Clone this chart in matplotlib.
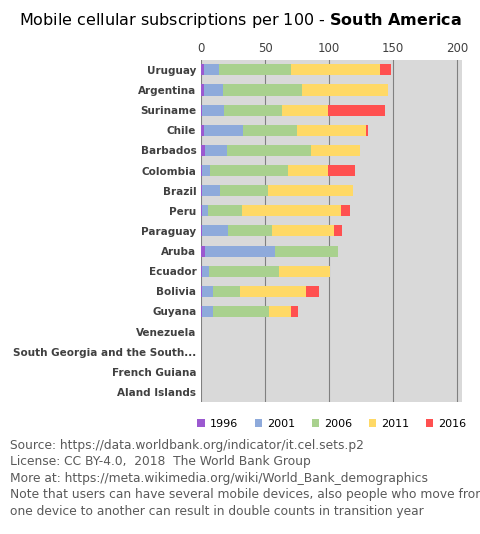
import matplotlib.pyplot as plt
import numpy as np

countries = ["Uruguay", "Argentina", "Suriname", "Chile", "Barbados", "Colombia", "Brazil",
             "Peru", "Paraguay", "Aruba", "Ecuador", "Bolivia", "Guyana", "Venezuela",
             "South Georgia and the South...", "French Guiana", "Aland Islands"]
years = ["1996", "2001", "2006", "2011", "2016"]
colors = ["#9b59d0", "#8eaadb", "#a9d18e", "#ffd966", "#ff5050"]

v1996 = [2, 2, 1, 2, 3, 1, 1, 1, 1, 3, 0.5, 0.3, 0.5, 0, 0, 0, 0]
v2001 = [14, 17, 18, 33, 20, 7, 15, 5, 21, 58, 6, 9, 9, 0, 0, 0, 0]
v2006 = [70, 79, 63, 75, 86, 68, 52, 32, 55, 107, 61, 30, 53, 0, 0, 0, 0]
v2011 = [140, 146, 99, 129, 124, 99, 119, 109, 104, 0, 101, 82, 70, 0, 0, 0, 0]
v2016 = [148, 0, 144, 130, 0, 120, 0, 116, 110, 0, 0, 92, 76, 0, 0, 0, 0]
series = [v1996, v2001, v2006, v2011, v2016]

plt.rcParams['font.family'] = ['Liberation Sans Narrow', 'DejaVu Sans']

fig = plt.figure(figsize=(4.8, 5.34), dpi=100)
ax = fig.add_axes([0.419, 0.247, 0.544, 0.641])
ax.set_facecolor("#d9d9d9")
y = np.arange(len(countries))

prev = np.zeros(len(countries))
for name, vals, c in zip(years, series, colors):
    vals = np.array(vals, dtype=float)
    width = np.where(vals > prev, vals - prev, 0)
    ax.barh(y, width, left=prev, height=0.55, color=c, label=name, zorder=3)
    prev = np.maximum(prev, vals)

ax.set_xlim(0, 204)
ax.set_ylim(len(countries) - 0.5, -0.5)
ax.set_xticks([0, 50, 100, 150, 200])
ax.xaxis.tick_top()
ax.tick_params(axis="x", length=0, labelsize=8.5, colors="#404040")
ax.tick_params(axis="y", length=0, labelsize=7.5)
ax.set_yticks(y)
ax.set_yticklabels(countries, fontweight="bold", color="#404040")
ax.grid(axis="x", color="#808080", linewidth=0.8, zorder=0)
for s in ax.spines.values():
    s.set_visible(False)

ax.legend(loc="upper center", bbox_to_anchor=(0.5, -0.02), ncol=5, frameon=False,
          fontsize=8, handlelength=0.7, handleheight=0.7, columnspacing=1.5, handletextpad=0.4)

fig.text(0.5, 0.962, "Mobile cellular subscriptions per 100 - $\\bf{South\\ America}$",
         ha="center", va="center", fontsize=11.5)
footer = ("Source: https://data.worldbank.org/indicator/it.cel.sets.p2\n"
          "License: CC BY-4.0,  2018  The World Bank Group\n"
          "More at: https://meta.wikimedia.org/wiki/World_Bank_demographics\n"
          "Note that users can have several mobile devices, also people who move from\n"
          "one device to another can result in double counts in transition year")
fig.text(0.02, 0.178, footer, ha="left", va="top", fontsize=8.8, color="#595959", linespacing=1.35)

fig.savefig("out.png", dpi=100)
